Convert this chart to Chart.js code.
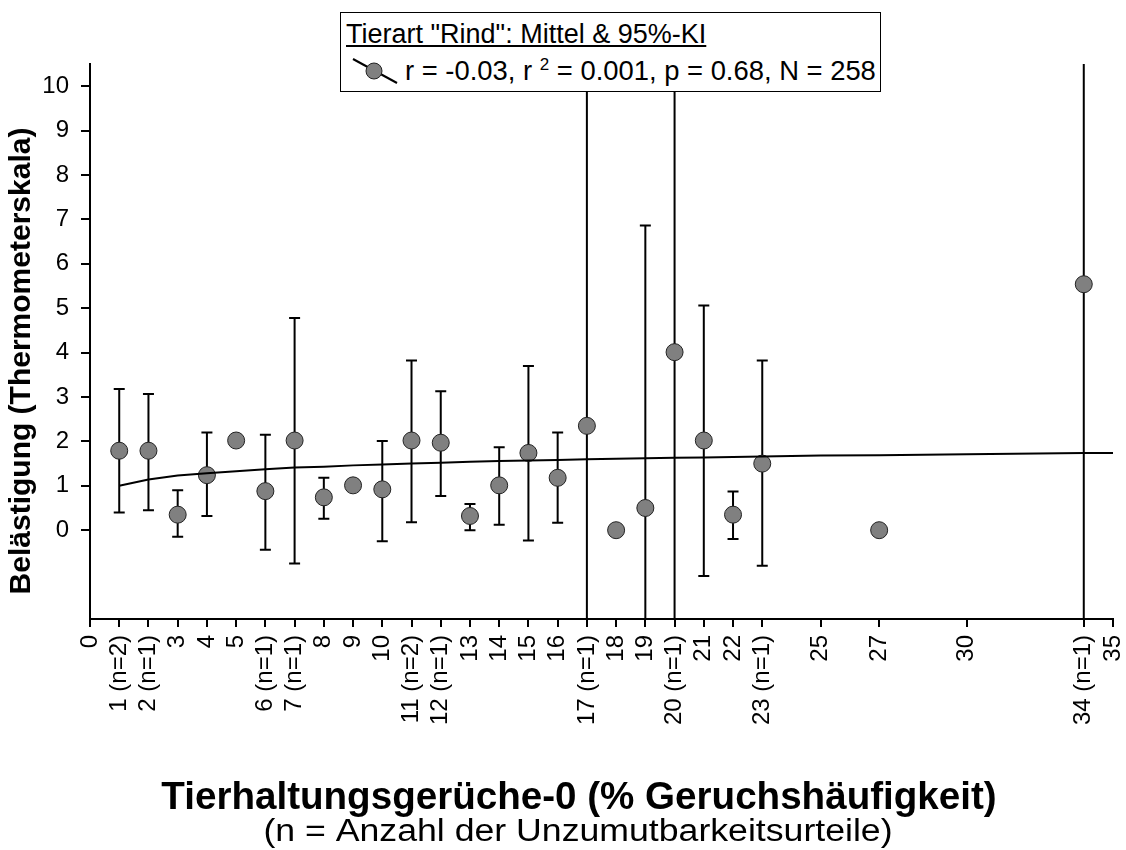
<!DOCTYPE html>
<html>
<head>
<meta charset="utf-8">
<title>Tierart Rind – Belästigung nach Geruchshäufigkeit</title>
<script src="https://cdn.jsdelivr.net/npm/chart.js@4.4.1/dist/chart.umd.min.js"></script>
<style>
  html, body { margin: 0; padding: 0; background: #fff; }
  #wrap { position: relative; width: 1126px; height: 850px; }
  #chart { display: block; }
  #legend {
    position: absolute; left: 340px; top: 12px; width: 539px; height: 78px;
    border: 1.5px solid #000; background: #fff; color: #000;
    font-family: "Liberation Sans", Arial, sans-serif; font-size: 27px;
  }
  #legend .head { position: absolute; left: 5px; top: 5px; line-height: 32px; text-decoration: underline; white-space: nowrap; }
  #legend .row { position: absolute; left: 64px; top: 42px; line-height: 32px; white-space: nowrap; font-size: 27.4px; }
  #legend .row sup { font-size: 17px; vertical-align: 10px; line-height: 0; }
  #legend svg { position: absolute; left: 10px; top: 43px; }
</style>
</head>
<body>
<div id="wrap">
  <canvas id="chart" width="1126" height="850"></canvas>
  <div id="legend">
    <div class="head">Tierart "Rind": Mittel &amp; 95%-KI</div>
    <svg width="48" height="30" viewBox="0 0 48 30">
      <line x1="2" y1="3" x2="46" y2="27" stroke="#000" stroke-width="2"/>
      <circle cx="23" cy="15" r="8" fill="#808080" stroke="#222" stroke-width="1"/>
    </svg>
    <div class="row">r = -0.03, r <sup>2</sup> = 0.001, p = 0.68, N = 258</div>
  </div>
</div>
<script>
// Odour frequency (% of hours) for which judgements exist
const odourPct   = [1, 2, 3, 4, 5, 6, 7, 8, 9, 10, 11, 12, 13, 14, 15, 16, 17, 18, 19, 20, 21, 22, 23, 27, 34];
// Mean annoyance rating (thermometer scale) per odour frequency
const meanRating = [1.79, 1.79, 0.35, 1.24, 2.02, 0.88, 2.02, 0.74, 1.01, 0.92, 2.02, 1.97, 0.32, 1.01, 1.74, 1.18, 2.35, 0.0, 0.50, 4.01, 2.02, 0.35, 1.50, 0.0, 5.54];
// 95% confidence interval bounds (null = single judgement, no interval)
const ciLower    = [0.40, 0.45, -0.15, 0.32, null, -0.44, -0.75, 0.26, null, -0.25, 0.18, 0.77, 0.0, 0.12, -0.23, 0.17, -6.7, null, -5.86, -3.0, -1.03, -0.20, -0.80, null, -2.5];
const ciUpper    = [3.18, 3.07, 0.90, 2.20, null, 2.15, 4.78, 1.18, null, 2.01, 3.82, 3.13, 0.59, 1.87, 3.70, 2.20, 11.4, null, 6.86, 11.0, 5.06, 0.87, 3.82, null, 13.5];

// Fitted trend line
const fitX = [1, 2, 3, 4, 5, 6, 7, 8, 9, 10, 11, 12, 13, 14, 15, 16, 17, 18, 19, 20, 21, 22, 23, 25, 27, 30, 34, 35];
const fitY = [1.00, 1.14, 1.23, 1.28, 1.33, 1.37, 1.41, 1.43, 1.46, 1.48, 1.50, 1.52, 1.54, 1.56, 1.57, 1.58, 1.60, 1.61, 1.62, 1.63, 1.64, 1.65, 1.66, 1.68, 1.69, 1.71, 1.74, 1.74];

// Axis ticks
const xTickValues = [0, 1, 2, 3, 4, 5, 6, 7, 8, 9, 10, 11, 12, 13, 14, 15, 16, 17, 18, 19, 20, 21, 22, 23, 25, 27, 30, 34, 35];
const xTickLabels = ['0', '1 (n=2)', '2 (n=1)', '3', '4', '5', '6 (n=1)', '7 (n=1)', '8', '9', '10', '11 (n=2)', '12 (n=1)', '13', '14', '15', '16', '17 (n=1)', '18', '19', '20 (n=1)', '21', '22', '23 (n=1)', '25', '27', '30', '34 (n=1)', '35'];
const yTickValues = [0, 1, 2, 3, 4, 5, 6, 7, 8, 9, 10];
const yTickLabels = ['0', '1', '2', '3', '4', '5', '6', '7', '8', '9', '10'];

const yTitle = 'Belästigung (Thermometerskala)';
const xTitle = 'Tierhaltungsgerüche-0 (% Geruchshäufigkeit)';
const xSubtitle = '(n = Anzahl der Unzumutbarkeitsurteile)';

const FONT = '"Liberation Sans", Arial, Helvetica, sans-serif';

// Vertical confidence-interval whiskers with end caps, drawn beneath the markers
const errorBars = {
  id: 'errorBars',
  beforeDatasetsDraw(chart) {
    const { ctx, chartArea: a, scales: { x, y } } = chart;
    ctx.save();
    ctx.beginPath();
    ctx.rect(a.left, a.top, a.right - a.left, a.bottom - a.top);
    ctx.clip();
    ctx.strokeStyle = '#000';
    ctx.lineWidth = 2;
    const cap = 5.5;
    odourPct.forEach((v, i) => {
      if (ciLower[i] === null || ciUpper[i] === null) return;
      const px = x.getPixelForValue(v);
      const top = y.getPixelForValue(ciUpper[i]);
      const bot = y.getPixelForValue(ciLower[i]);
      ctx.beginPath();
      ctx.moveTo(px, top); ctx.lineTo(px, bot);
      ctx.moveTo(px - cap, top); ctx.lineTo(px + cap, top);
      ctx.moveTo(px - cap, bot); ctx.lineTo(px + cap, bot);
      ctx.stroke();
    });
    ctx.restore();
  }
};

// Axis titles
const axisTitles = {
  id: 'axisTitles',
  afterDraw(chart) {
    const { ctx } = chart;
    ctx.save();
    ctx.fillStyle = '#000';
    ctx.textAlign = 'center';
    ctx.textBaseline = 'middle';
    ctx.font = 'bold 30px ' + FONT;
    ctx.save();
    ctx.translate(22, 361);
    ctx.rotate(-Math.PI / 2);
    ctx.fillText(yTitle, 0, 0);
    ctx.restore();
    ctx.font = 'bold 38.6px ' + FONT;
    ctx.fillText(xTitle, 579, 798);
    ctx.save();
    ctx.translate(578, 832);
    ctx.scale(1.15, 1);
    ctx.font = '31px ' + FONT;
    ctx.fillText(xSubtitle, 0, 0);
    ctx.restore();
    ctx.restore();
  }
};

new Chart(document.getElementById('chart'), {
  type: 'scatter',
  data: {
    datasets: [
      {
        label: 'Trend',
        data: fitX.map((v, i) => ({ x: v, y: fitY[i] })),
        showLine: true,
        borderColor: '#000',
        borderWidth: 2,
        pointRadius: 0,
        tension: 0,
        order: 0
      },
      {
        label: 'Mittel',
        data: odourPct.map((v, i) => ({ x: v, y: meanRating[i] })),
        backgroundColor: '#808080',
        borderColor: '#222',
        borderWidth: 1,
        pointRadius: 8.5,
        order: 1
      }
    ]
  },
  options: {
    responsive: false,
    animation: false,
    layout: { padding: { top: 64, right: 13, left: 0, bottom: 0 } },
    plugins: { legend: { display: false }, tooltip: { enabled: false }, title: { display: false } },
    scales: {
      x: {
        type: 'linear', min: 0, max: 35,
        afterBuildTicks: s => { s.ticks = xTickValues.map(v => ({ value: v })); },
        afterFit: s => { s.height = 231; s.paddingLeft = 0; s.paddingRight = 0; },
        ticks: {
          autoSkip: false, maxRotation: 90, minRotation: 90, padding: 8, color: '#000',
          font: { family: FONT, size: 24 },
          callback: v => xTickLabels[xTickValues.indexOf(v)]
        },
        grid: { drawOnChartArea: false, drawTicks: true, tickLength: 8, color: '#000', lineWidth: 2 },
        border: { display: true, color: '#000', width: 2 }
      },
      y: {
        type: 'linear', min: -2, max: 10.5,
        afterBuildTicks: s => { s.ticks = yTickValues.map(v => ({ value: v })); },
        afterFit: s => { s.width = 90; s.paddingTop = 0; s.paddingBottom = 0; },
        ticks: {
          padding: 12, color: '#000',
          font: { family: FONT, size: 24 },
          callback: v => yTickLabels[yTickValues.indexOf(v)]
        },
        grid: { drawOnChartArea: false, drawTicks: true, tickLength: 9, color: '#000', lineWidth: 2 },
        border: { display: true, color: '#000', width: 2 }
      }
    }
  },
  plugins: [errorBars, axisTitles]
});
</script>
</body>
</html>
